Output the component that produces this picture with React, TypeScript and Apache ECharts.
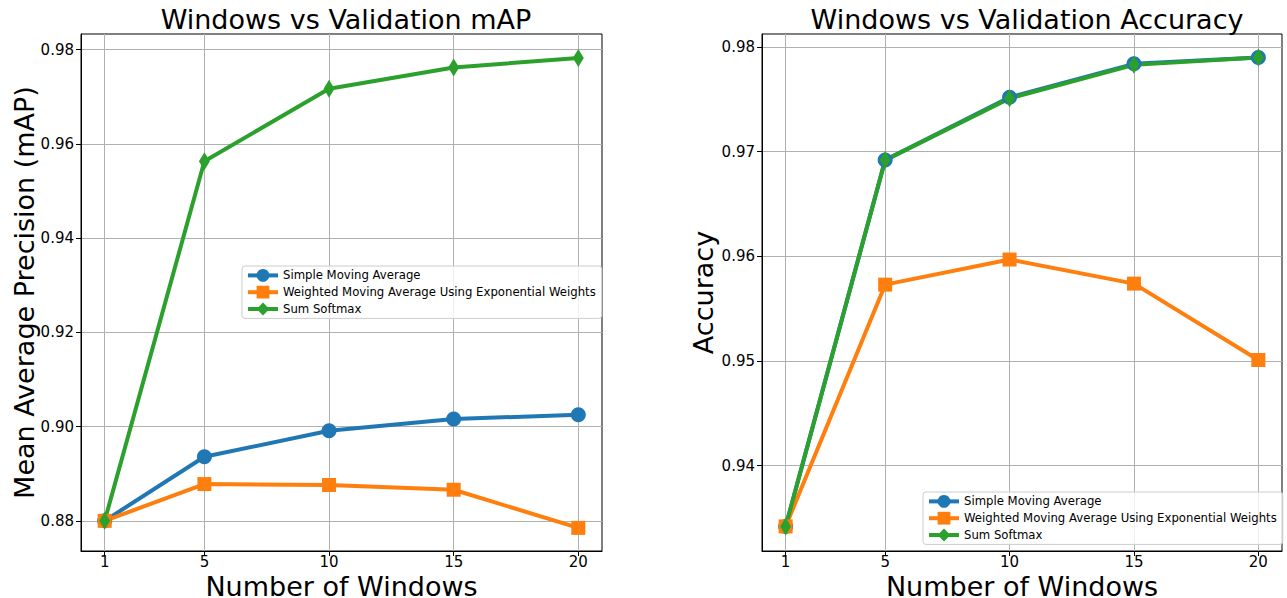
import React, { useEffect, useRef } from "react";
import * as echarts from "echarts";

const windows = [1, 5, 10, 15, 20];
const seriesNames = [
  "Simple Moving Average",
  "Weighted Moving Average Using Exponential Weights",
  "Sum Softmax",
];
const mapSimple = [0.8800, 0.8936, 0.8991, 0.9016, 0.9025];
const mapWeighted = [0.8800, 0.8878, 0.8876, 0.8866, 0.8785];
const mapSoftmax = [0.8800, 0.9563, 0.9717, 0.9762, 0.9782];
const accSimple = [0.9342, 0.9692, 0.9752, 0.9784, 0.9790];
const accWeighted = [0.9342, 0.9573, 0.9597, 0.9574, 0.9501];
const accSoftmax = [0.9342, 0.9692, 0.9751, 0.9783, 0.9790];
const mapTicks = [0.88, 0.9, 0.92, 0.94, 0.96, 0.98];
const accTicks = [0.94, 0.95, 0.96, 0.97, 0.98];

const colors = ["#1f77b4", "#ff7f0e", "#2ca02c"];
const symbols = ["circle", "rect", "diamond"];
const symbolSizes: any[] = [15, 14, [11, 18]];
const FONT = "DejaVu Sans";

export default function App() {
  const ref = useRef<HTMLDivElement>(null);
  useEffect(() => {
    const chart = echarts.init(ref.current!, null, { renderer: "svg" });
    const grids = [
      { left: 81, top: 34, width: 521, height: 517 },
      { left: 762, top: 34, width: 520, height: 517 },
    ];
    const xAxis = grids.map((_, i) => ({
      type: "value",
      gridIndex: i,
      min: 0.05,
      max: 20.95,
      name: "Number of Windows",
      nameLocation: "middle",
      nameGap: 24,
      nameMoveOverlap: false,
      nameTextStyle: { fontFamily: FONT, fontSize: 27, lineHeight: 22, color: "#000", verticalAlign: "top" },
      axisLine: { show: true, lineStyle: { color: "#000", width: 1 } },
      axisTick: { show: true, length: 5, customValues: windows, lineStyle: { color: "#000" } },
      axisLabel: {
        customValues: windows,
        fontFamily: FONT,
        fontSize: 15,
        color: "#000",
        margin: 3,
      },
      splitLine: { show: true, lineStyle: { color: "#b0b0b0", width: 1 } },
    }));
    const yDefs = [
      { min: 0.8736, max: 0.9833, ticks: mapTicks, name: "Mean Average Precision (mAP)", gap: 43 },
      { min: 0.93185, max: 0.98125, ticks: accTicks, name: "Accuracy", gap: 45 },
    ];
    const yAxis = yDefs.map((d, i) => ({
      type: "value",
      gridIndex: i,
      min: d.min,
      max: d.max,
      name: d.name,
      nameLocation: "middle",
      nameGap: d.gap,
      nameMoveOverlap: false,
      nameTextStyle: { fontFamily: FONT, fontSize: 27, color: "#000" },
      axisLine: { show: true, lineStyle: { color: "#000", width: 1 } },
      axisTick: { show: true, length: 5, customValues: d.ticks, lineStyle: { color: "#000" } },
      axisLabel: {
        customValues: d.ticks,
        fontFamily: FONT,
        fontSize: 15,
        color: "#000",
        margin: 7,
        formatter: (v: number) => v.toFixed(2),
      },
      splitLine: { show: true, lineStyle: { color: "#b0b0b0", width: 1 } },
    }));
    const data = [
      [mapSimple, mapWeighted, mapSoftmax],
      [accSimple, accWeighted, accSoftmax],
    ];
    const series: any[] = [];
    data.forEach((group, gi) => {
      group.forEach((vals, si) => {
        series.push({
          type: "line",
          name: seriesNames[si],
          xAxisIndex: gi,
          yAxisIndex: gi,
          data: windows.map((w, k) => [w, vals[k]]),
          symbol: symbols[si],
          symbolSize: symbolSizes[si],
          showAllSymbol: true,
          itemStyle: { color: colors[si] },
          lineStyle: { color: colors[si], width: 4 },
          emphasis: { disabled: true },
        });
      });
    });
    const legendBase = {
      orient: "vertical",
      backgroundColor: "rgba(255,255,255,0.8)",
      borderColor: "#cccccc",
      borderWidth: 1,
      borderRadius: 3,
      padding: [3, 6, 3, 4],
      itemGap: 4,
      itemWidth: 30,
      itemHeight: 16,
      lineStyle: { width: 4 },
      textStyle: { fontFamily: FONT, fontSize: 11.7, color: "#000" },
      data: seriesNames,
      selectedMode: false,
    };
    chart.setOption({
      animation: false,
      backgroundColor: "#fff",
      title: [
        {
          text: "Windows vs Validation mAP",
          left: 341,
          top: 1,
          textAlign: "center",
          textStyle: { fontFamily: FONT, fontSize: 27, fontWeight: "normal", color: "#000" },
        },
        {
          text: "Windows vs Validation Accuracy",
          left: 1022,
          top: 1,
          textAlign: "center",
          textStyle: { fontFamily: FONT, fontSize: 27, fontWeight: "normal", color: "#000" },
        },
      ],
      grid: grids.map((g) => ({
        ...g,
        show: true,
        borderColor: "#000",
        borderWidth: 1,
        backgroundColor: "transparent",
        containLabel: false,
        outerBoundsMode: "none",
      })),
      xAxis,
      yAxis,
      legend: [
        { ...legendBase, left: 242, top: 266 },
        { ...legendBase, left: 923, top: 492 },
      ],
      series,
    });
    return () => chart.dispose();
  }, []);
  return (
    <div
      ref={ref}
      style={{ position: "fixed", left: 0, top: 0, width: 1287, height: 598 }}
    />
  );
}
